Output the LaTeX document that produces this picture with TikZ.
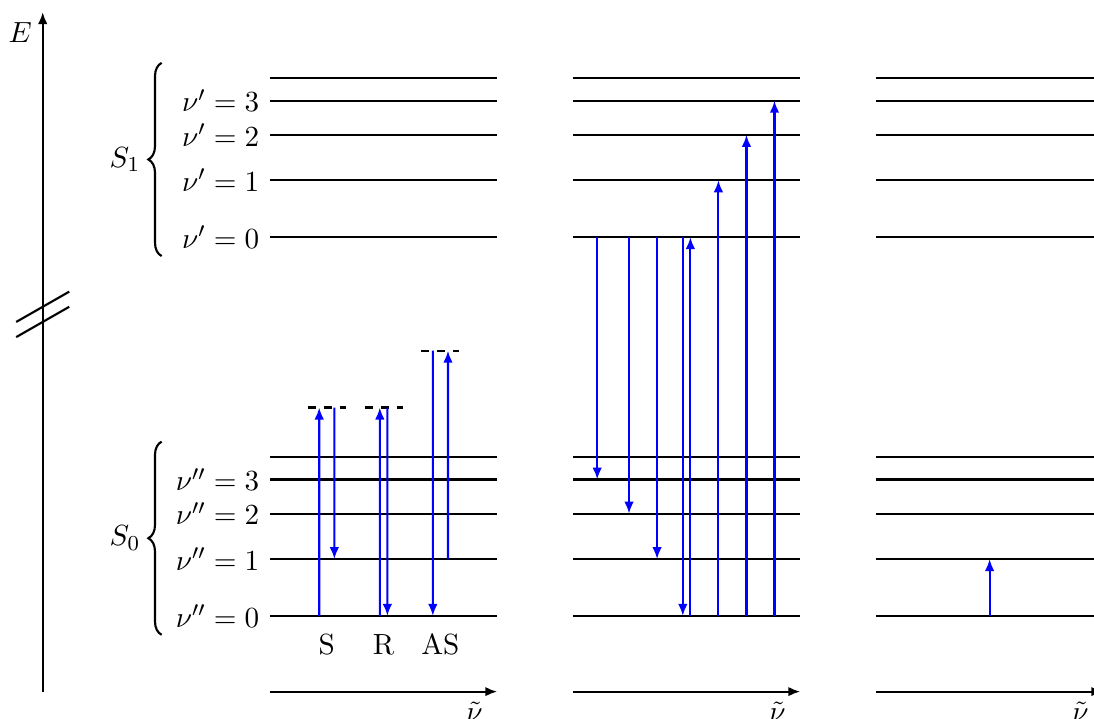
\documentclass[tikz,border=0pt,11pt]{standalone}
\usetikzlibrary{arrows.meta, positioning, calc, decorations.pathreplacing}
\definecolor{cblue}{HTML}{0000FF}
\tikzset{
  every picture/.style={line width=0.8pt},
  level/.style={draw=black, line width=0.8pt},
  axis/.style={-{Latex[length=4.5pt, width=3.6pt]}, draw=black, line width=0.8pt},
  trans/.style={-{Latex[length=4.5pt, width=3.6pt]}, draw=cblue, line width=0.8pt},
  virt/.style={draw=black, dashed, line width=0.8pt},
  brace/.style={decorate, decoration={brace, amplitude=5pt}, line width=0.8pt},
}

\begin{document}
\begin{tikzpicture}
  \clip (-3.564, -1.36) rectangle (10.878, 8.13);
  % energy axis with break
  \coordinate (Ebot) at (-3, -1);
  \coordinate (Etop) at (-3, 7.97);
  \draw[axis] (Ebot) -- (Etop) node[below left] (lE) {$E$};
  \draw (-3.35, 3.88) -- (-2.65, 4.28);
  \draw (-3.35, 3.68) -- (-2.65, 4.08);
  % three panels of levels
  \foreach \p [count=\k] in {0, 4, 8} {
    \foreach \y [count=\i from 0] in {0, 0.75, 1.35, 1.8, 2.1} {
      \coordinate (g\k-\i) at (\p, \y);
      \coordinate (e\k-\i) at (\p, 5 + \y);
      \draw[level] (g\k-\i) -- ++(3, 0);
      \draw[level] (e\k-\i) -- ++(3, 0);
    }
    \coordinate (w\k) at (\p, -1);
    \draw[axis] (w\k) -- ++(3, 0) node[pos=0.9, below] (n\k) {$\tilde{\nu}$};
  }
  \foreach \i in {0, 1, 2, 3} {
    \node[left] (lg\i) at (g1-\i) {$\nu'' = \i$};
    \node[left] (le\i) at (e1-\i) {$\nu' = \i$};
  }
  \draw[brace] (-1.43, -0.25) -- (-1.43, 2.3) node[midway, left=0.14cm] (S0) {$S_0$};
  \draw[brace] (-1.43, 4.75) -- (-1.43, 7.3) node[midway, left=0.14cm] (S1) {$S_1$};
  % Raman: Stokes, Rayleigh, anti-Stokes
  \coordinate (vS) at (0.5, 2.75);
  \coordinate (vR) at (1.25, 2.75);
  \coordinate (vAS) at (2, 3.5);
  \draw[virt] (vS) -- ++(0.5, 0);
  \draw[virt] (vR) -- ++(0.5, 0);
  \draw[virt] (vAS) -- ++(0.5, 0);
  \draw[trans] ([xshift=0.65cm]g1-0) -- ([xshift=0.15cm]vS);
  \draw[trans] ([xshift=0.35cm]vS) -- ([xshift=0.85cm]g1-1);
  \draw[trans] ([xshift=1.45cm]g1-0) -- ([xshift=0.2cm]vR);
  \draw[trans] ([xshift=0.3cm]vR) -- ([xshift=1.55cm]g1-0);
  \draw[trans] ([xshift=0.15cm]vAS) -- ([xshift=2.15cm]g1-0);
  \draw[trans] ([xshift=2.35cm]g1-1) -- ([xshift=0.35cm]vAS);
  \node (lS) at (0.75, -0.38) {S};
  \node (lR) at (1.5, -0.38) {R};
  \node (lAS) at (2.25, -0.38) {AS};
  % fluorescence and absorption
  \foreach \dx/\i in {0.32/3, 0.74/2, 1.11/1, 1.45/0}
    \draw[trans] ([xshift=\dx cm]e2-0) -- ([xshift=\dx cm]g2-\i);
  \foreach \dx/\i in {1.55/0, 1.92/1, 2.29/2, 2.66/3}
    \draw[trans] ([xshift=\dx cm]g2-0) -- ([xshift=\dx cm]e2-\i);
  % infrared
  \draw[trans] ([xshift=1.5cm]g3-0) -- ([xshift=1.5cm]g3-1);
\end{tikzpicture}
\end{document}
